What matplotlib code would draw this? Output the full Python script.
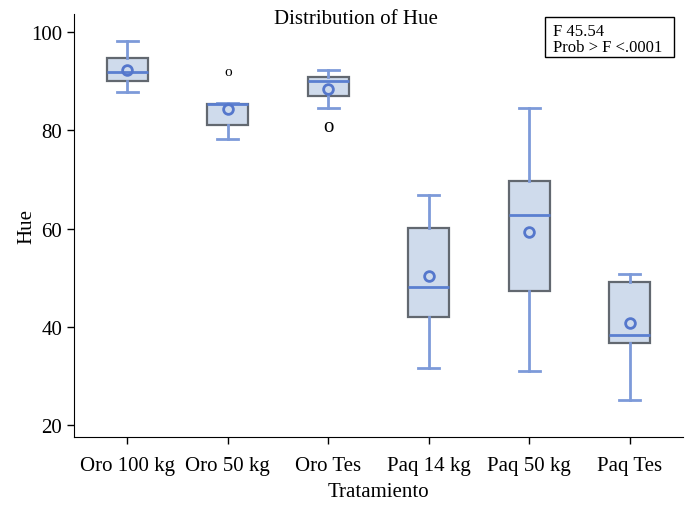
import matplotlib
matplotlib.use('Agg')
from matplotlib import pyplot as plt
from matplotlib.patches import Rectangle

plt.rcParams['font.family'] = ['Liberation Serif', 'DejaVu Serif']

# treatment groups and their box summaries for Hue
groups = ['Oro 100 kg', 'Oro 50 kg', 'Oro Tes', 'Paq 14 kg', 'Paq 50 kg', 'Paq Tes']
whisk_lo = [87.8, 78.3, 84.5, 31.6, 31.1, 25.1]
q1 = [90.1, 81.2, 87.0, 42.0, 47.4, 36.8]
median = [91.9, 85.3, 90.1, 48.1, 62.7, 38.4]
q3 = [94.8, 85.3, 90.9, 60.1, 69.7, 49.2]
whisk_hi = [98.2, 85.5, 92.2, 66.9, 84.5, 50.8]
means = [92.3, 84.3, 88.4, 50.4, 59.4, 40.9]

# outliers: (group index, value, glyph size)
out_idx = [1, 2]
out_val = [92.0, 80.8]
out_size = [11, 15]

f_value = 45.54

stats = []
for i in range(len(groups)):
    stats.append({'label': groups[i], 'whislo': whisk_lo[i], 'q1': q1[i],
                  'med': median[i], 'q3': q3[i], 'whishi': whisk_hi[i],
                  'mean': means[i], 'fliers': []})

fig = plt.figure(figsize=(6.91, 5.06), dpi=100)
ax = fig.add_axes([74/691, 68/506, 609/691, 423/506])

blue = '#7d9ad9'
ax.bxp(stats, positions=range(len(groups)), widths=0.41, showmeans=True,
       patch_artist=True, showfliers=False,
       boxprops=dict(facecolor='#cfdbec', edgecolor='#626870', linewidth=1.6),
       medianprops=dict(color='#5b7fd0', linewidth=2),
       whiskerprops=dict(color=blue, linewidth=2),
       capprops=dict(color=blue, linewidth=2),
       meanprops=dict(marker='o', markerfacecolor='none', markeredgecolor='#5577cc',
                      markeredgewidth=2, markersize=7))
ax.set_xticks(range(len(groups)))

for i, v, s in zip(out_idx, out_val, out_size):
    ax.text(i, v, 'o', fontsize=s, ha='center', va='center', color='black')

ax.set_xlim(-0.53, 5.53)
ax.set_ylim(17.6, 103.7)
ax.set_yticks([20, 40, 60, 80, 100])
ax.set_xticklabels(groups, fontsize=15)
ax.tick_params(axis='y', labelsize=15, length=5, width=1)
ax.tick_params(axis='x', length=5, width=1, pad=9)
ax.spines['top'].set_visible(False)
ax.spines['right'].set_visible(False)
ax.set_xlabel('Tratamiento', fontsize=15, labelpad=5)
ax.set_ylabel('Hue', fontsize=15)
ax.yaxis.set_label_coords(-0.062, 0.5)

fig.text(356/691, 1 - 20/506, 'Distribution of Hue', ha='center', va='center', fontsize=15)

# F-test inset
ax.add_patch(Rectangle((0.7734, 0.8983), 0.2116, 0.0946, transform=ax.transAxes,
                       facecolor='white', edgecolor='black', linewidth=1, clip_on=False))
ax.text(0.7865, 0.960, 'F %.2f' % f_value, transform=ax.transAxes,
        ha='left', va='center', fontsize=12)
ax.text(0.7865, 0.922, 'Prob > F <.0001', transform=ax.transAxes,
        ha='left', va='center', fontsize=12)

fig.savefig('out.png', dpi=100)
